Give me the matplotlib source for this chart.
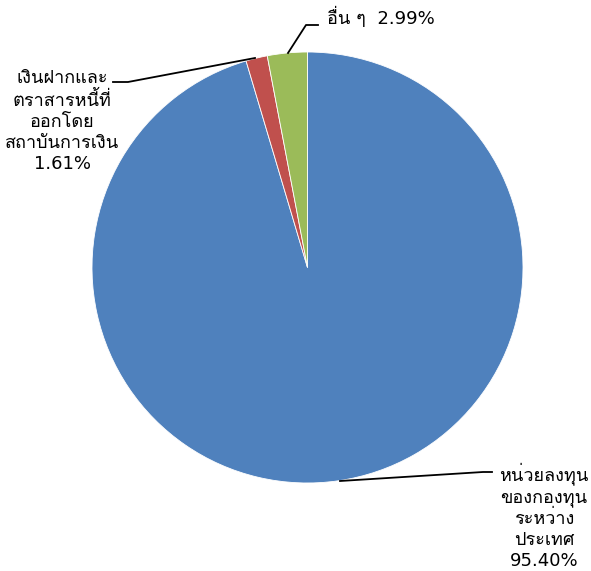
import matplotlib
matplotlib.use('Agg')
import matplotlib.pyplot as plt

# Latin digits from DejaVu Sans, Thai glyphs fall through to Loma
plt.rcParams['font.family'] = ['DejaVu Sans', 'Loma']

labels = ['หน่วยลงทุน\nของกองทุน\nระหว่าง\nประเทศ',
          'เงินฝากและ\nตราสารหนี้ที่\nออกโดย\nสถาบันการเงิน',
          'อื่น ๆ']
shares = [95.40, 1.61, 2.99]
colors = ['#4F81BD', '#C0504D', '#9BBB59']

W, H = 591, 571
fig = plt.figure(figsize=(W / 100, H / 100), dpi=100)
ax = fig.add_axes([0, 0, 1, 1])

cx, cy, r = 307.5, H - 267.5, 215.5
ax.pie(shares, colors=colors, startangle=90, counterclock=False,
       center=(cx, cy), radius=r, frame=True,
       wedgeprops=dict(edgecolor='white', linewidth=0.6))
ax.set_xlim(0, W)
ax.set_ylim(0, H)
ax.set_aspect('equal')
ax.axis('off')

txt = dict(fontsize=13, color='black', ha='center', va='center', linespacing=1.22)

# leader lines
ax.plot([340, 483, 492], [H - 481, H - 472, H - 472], color='black', lw=1.3)
ax.plot([255, 128, 113], [H - 58, H - 82, H - 82], color='black', lw=1.3)
ax.plot([288, 306, 318], [H - 53, H - 25, H - 25], color='black', lw=1.3)

ax.text(544, H - 516, labels[0] + '\n%.2f%%' % shares[0], **txt)
ax.text(62, H - 121, labels[1] + '\n%.2f%%' % shares[1], **txt)
ax.text(327, H - 17, labels[2] + '  %.2f%%' % shares[2],
        fontsize=13, ha='left', va='center')

fig.savefig('out.png', dpi=100)
